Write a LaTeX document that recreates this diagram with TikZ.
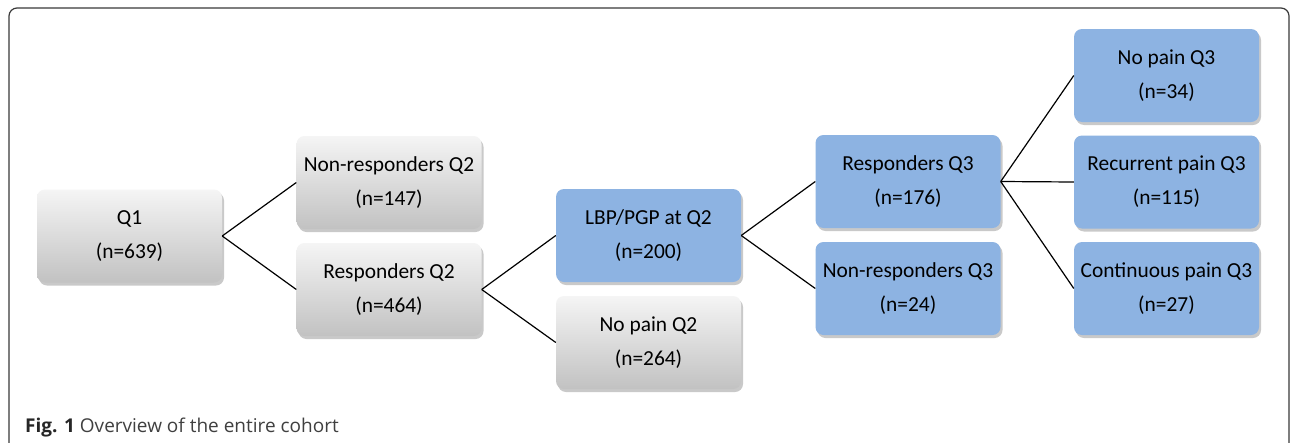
\documentclass[tikz,border=0pt]{standalone}
\usepackage{fontspec}
\setmainfont{Carlito}
\newfontfamily\capfont{Open Sans}
\usetikzlibrary{shadows}
\definecolor{boxblue}{HTML}{8DB3E2}
\definecolor{framegray}{HTML}{3A3A3A}
\definecolor{captext}{HTML}{404040}
\tikzset{
  basebox/.style={rounded corners=8pt, minimum width=185pt, minimum height=93pt,
    align=center, inner sep=0pt, text=black,
    font=\fontsize{21.4}{34}\selectfont,
    drop shadow={shadow xshift=2pt, shadow yshift=-3pt, opacity=0.35, fill=black!60}},
  graybox/.style={basebox, top color=white!96!black, bottom color=white!76!black},
  bluebox/.style={basebox, fill=boxblue},
  link/.style={draw=black, line width=1.2pt}
}
\begin{document}
\begin{tikzpicture}[x=1pt,y=-1pt]
\useasboundingbox (0,0) rectangle (1290,442);
\clip (0,0) rectangle (1290,442);
\fill[white] (0,0) rectangle (1290,442);
\draw[framegray, line width=1.2pt, rounded corners=8pt] (9,8) rectangle (1289,470);

\node[graybox] (q1) at (129.5,236) {Q1\\(n=639)};
\node[graybox] (nrq2) at (389,182.5) {Non-responders Q2\\(n=147)};
\node[graybox] (rq2) at (389,289.5) {Responders Q2\\(n=464)};
\node[bluebox] (lbp) at (648.5,235.5) {LBP/PGP at Q2\\(n=200)};
\node[graybox] (npq2) at (648.5,342.5) {No pain Q2\\(n=264)};
\node[bluebox] (rq3) at (908,181.5) {Responders Q3\\(n=176)};
\node[bluebox] (nrq3) at (908,288.5) {Non-responders Q3\\(n=24)};
\node[bluebox] (npq3) at (1166.5,75.5) {No pain Q3\\(n=34)};
\node[bluebox] (recq3) at (1166.5,182) {Recurrent pain Q3\\(n=115)};
\node[bluebox] (conq3) at (1166.5,288.5) {Continuous pain Q3\\(n=27)};

\draw[link] (q1.east) -- (nrq2.west);
\draw[link] (q1.east) -- (rq2.west);
\draw[link] (rq2.east) -- (lbp.west);
\draw[link] (rq2.east) -- (npq2.west);
\draw[link] (lbp.east) -- (rq3.west);
\draw[link] (lbp.east) -- (nrq3.west);
\draw[link] (rq3.east) -- (npq3.west);
\draw[link] (rq3.east) -- (recq3.west);
\draw[link] (rq3.east) -- (conq3.west);

\node[anchor=base west, inner sep=0pt, text=captext, font=\capfont\fontsize{19}{22}\selectfont] (cap) at (25,432)
  {\textcolor{black!85}{\bfseries Fig. 1} Overview of the entire cohort};
\end{tikzpicture}
\end{document}
